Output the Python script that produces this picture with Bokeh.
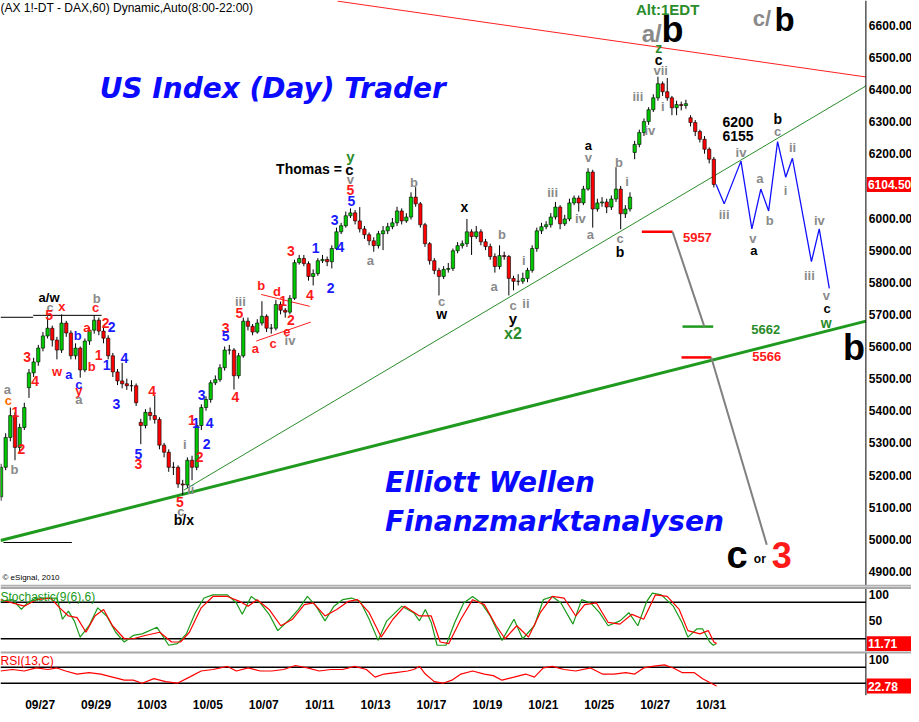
import numpy as np
from bokeh.plotting import figure
from bokeh.layouts import column
from bokeh.models import ColumnDataSource, FixedTicker, Span, Range1d
from bokeh.core.properties import value
from bokeh.embed import file_html
from bokeh.resources import INLINE

FONT = "Liberation Sans"
WIDE = "DejaVu Sans"

# ---------------- data (hourly DAX future bars) ----------------
opens = [5132, 5224, 5317, 5385, 5286, 5348, 5472, 5518, 5552, 5595,
         5633, 5657, 5620, 5589, 5673, 5642, 5571, 5595, 5527, 5617,
         5651, 5682, 5648, 5626, 5571, 5521, 5493, 5484, 5478, 5478,
         5364, 5354, 5395, 5385, 5373, 5293, 5271, 5224, 5224, 5172,
         5169, 5246, 5224, 5354, 5410, 5435, 5487, 5497, 5534, 5589,
         5589, 5509, 5571, 5679, 5663, 5645, 5673, 5694, 5657, 5657,
         5731, 5713, 5707, 5750, 5861, 5874, 5858, 5818, 5827, 5867,
         5871, 5864, 5905, 5957, 5976, 6007, 6016, 5991, 5966, 5948,
         5929, 5914, 5951, 5960, 5973, 5985, 6022, 5991, 6003, 6065,
         6044, 5979, 5920, 5867, 5837, 5818, 5840, 5843, 5898, 5914,
         5920, 5957, 5942, 5957, 5926, 5911, 5880, 5849, 5883, 5880,
         5812, 5803, 5803, 5812, 5837, 5905, 5960, 5973, 5979, 6003,
         6034, 5982, 5997, 6047, 6062, 6047, 6090, 6143, 6028, 6047,
         6050, 6034, 6059, 6090, 6013, 6028, 6204, 6229, 6266, 6300,
         6337, 6374, 6418, 6393, 6374, 6343, 6353, 6350, 6312, 6297,
         6269, 6245, 6214, 6183]
closes = [5224, 5317, 5385, 5286, 5348, 5410, 5518, 5552, 5595, 5633,
          5657, 5620, 5589, 5673, 5642, 5571, 5595, 5527, 5617, 5651,
          5682, 5648, 5626, 5571, 5521, 5493, 5484, 5478, 5478, 5425,
          5354, 5395, 5385, 5373, 5293, 5271, 5224, 5224, 5172, 5169,
          5246, 5224, 5354, 5410, 5435, 5487, 5497, 5534, 5589, 5589,
          5509, 5571, 5679, 5663, 5645, 5673, 5694, 5657, 5657, 5731,
          5713, 5707, 5750, 5861, 5874, 5858, 5818, 5827, 5867, 5871,
          5864, 5905, 5957, 5976, 6007, 6016, 5991, 5966, 5948, 5929,
          5914, 5951, 5960, 5973, 5985, 6022, 5991, 6003, 6065, 6044,
          5979, 5920, 5867, 5837, 5818, 5840, 5843, 5898, 5914, 5920,
          5957, 5942, 5957, 5926, 5911, 5880, 5849, 5883, 5880, 5812,
          5803, 5803, 5812, 5837, 5905, 5960, 5973, 5979, 6003, 6034,
          5982, 5997, 6047, 6062, 6047, 6090, 6143, 6028, 6047, 6050,
          6034, 6059, 6090, 6013, 6028, 6065, 6229, 6266, 6300, 6337,
          6374, 6418, 6393, 6374, 6343, 6353, 6350, 6356, 6297, 6269,
          6245, 6214, 6183, 6104.5]
highs = [5235, 5330, 5410, 5395, 5360, 5425, 5530, 5565, 5605, 5645,
         5694, 5665, 5630, 5700, 5680, 5650, 5610, 5600, 5625, 5660,
         5697, 5690, 5660, 5635, 5580, 5530, 5549, 5500, 5495, 5485,
         5375, 5405, 5410, 5450, 5380, 5300, 5280, 5240, 5230, 5185,
         5255, 5260, 5365, 5420, 5445, 5495, 5510, 5545, 5600, 5605,
         5595, 5580, 5690, 5690, 5670, 5685, 5741, 5700, 5670, 5745,
         5740, 5720, 5760, 5870, 5885, 5885, 5865, 5840, 5875, 5885,
         5880, 5915, 5970, 5985, 6020, 6030, 6025, 6034, 5975, 5955,
         5940, 5960, 5975, 5985, 6000, 6035, 6030, 6015, 6080, 6096,
         6050, 5985, 5925, 5875, 5845, 5850, 5860, 5905, 5925, 5930,
         5997, 5965, 5975, 5965, 5935, 5920, 5890, 5915, 5895, 5885,
         5820, 5825, 5830, 5845, 5915, 5970, 5985, 5990, 6015, 6050,
         6040, 6010, 6060, 6070, 6070, 6100, 6155, 6150, 6060, 6065,
         6060, 6070, 6158, 6100, 6040, 6080, 6240, 6275, 6310, 6345,
         6385, 6440, 6425, 6436, 6380, 6365, 6362, 6368, 6320, 6305,
         6275, 6255, 6220, 6190]
lows = [5120, 5215, 5305, 5246, 5275, 5340, 5440, 5505, 5540, 5585,
        5625, 5600, 5560, 5580, 5630, 5560, 5560, 5503, 5520, 5605,
        5640, 5635, 5610, 5560, 5505, 5480, 5470, 5465, 5460, 5415,
        5296, 5345, 5370, 5360, 5280, 5255, 5210, 5200, 5160, 5138,
        5160, 5184, 5215, 5340, 5400, 5425, 5480, 5490, 5525, 5575,
        5466, 5500, 5565, 5650, 5635, 5640, 5665, 5645, 5640, 5650,
        5700, 5690, 5700, 5745, 5855, 5850, 5805, 5790, 5820, 5860,
        5850, 5843, 5900, 5950, 5970, 6000, 5980, 5955, 5935, 5915,
        5895, 5905, 5900, 5950, 5965, 5975, 5980, 5985, 5995, 6035,
        5970, 5910, 5855, 5825, 5759, 5810, 5830, 5835, 5890, 5905,
        5910, 5885, 5935, 5915, 5900, 5870, 5830, 5840, 5870, 5759,
        5775, 5790, 5795, 5800, 5830, 5895, 5950, 5965, 5970, 5995,
        5965, 5975, 5990, 6040, 6020, 6040, 6085, 5970, 6020, 6035,
        6015, 6025, 6050, 5965, 6000, 6020, 6183, 6220, 6255, 6290,
        6330, 6365, 6380, 6365, 6320, 6320, 6335, 6340, 6285, 6255,
        6235, 6200, 6170, 6095]
last_price = 6104.5

# trading-day axis (09/27 = day 0), labels every second trading day
date_ticks = [0, 2, 4, 6, 8, 10, 12, 14, 16, 18, 20, 22, 24]
date_labels = ["09/27", "09/29", "10/03", "10/05", "10/07", "10/11", "10/13",
               "10/17", "10/19", "10/21", "10/25", "10/27", "10/31"]
price_ticks = list(range(4900, 6700, 100))
stoch_ticks = [100, 50]
rsi_ticks = [100]

# projected path (blue zig-zag)
proj_days = [24.18, 24.47, 25.07, 25.46, 25.78, 26.06, 26.38, 26.67, 26.91, 27.59, 27.87, 28.23]
proj_prices = [6104.5, 6044, 6177, 5966, 6090, 6022, 6238, 6127, 6186, 5864, 5966, 5781]

# target levels
level_top, level_mid, level_low = 5957, 5662, 5566

# stochastic %K / %D and RSI(13)
stoch_k_days = [-1.42, -0.99, -0.67, -0.46, -0.14, 0.28, 0.6, 0.8, 1.01, 1.22, 1.43, 1.75, 2.06, 2.38,
                2.7, 3.01, 3.33, 3.65, 4.18, 4.6, 4.91, 5.23, 5.55, 5.86, 6.18, 6.7, 7.02, 7.23, 7.55,
                7.87, 8.19, 8.5, 8.93, 9.24, 9.56, 9.87, 10.19, 10.51, 10.82, 11.14, 11.45, 11.77,
                12.09, 12.4, 12.94, 13.36, 13.57, 13.78, 13.99, 14.2, 14.52, 14.83, 15.15, 15.47,
                15.78, 16.1, 16.52, 16.95, 17.26, 17.68, 18.0, 18.32, 18.63, 19.06, 19.37, 19.69,
                20.01, 20.32, 20.74, 21.06, 21.38, 21.7, 21.9, 22.22, 22.65, 22.96, 23.17, 23.49,
                23.7, 23.95, 24.08, 24.18]
stoch_k = [81.6, 84.3, 68.2, 78.9, 87, 87, 87, 52.1, 65.5, 49.5, 22.7, 41.4, 70.9, 57.5, 30.7, 14.6,
           25.4, 28, 38.8, 9.3, 12, 28, 62.9, 87, 92.3, 92.3, 78.9, 60.2, 89.6, 78.9, 60.2, 33.4,
           52.1, 68.2, 89.6, 73.6, 49.5, 73.6, 84.3, 87, 81.6, 52.1, 17.3, 49.5, 73.6, 62.9, 49.5,
           68.2, 46.8, 9.3, 9.3, 46.8, 78.9, 89.6, 78.9, 57.5, 17.3, 52.1, 20, 41.4, 84.3, 89.6,
           78.9, 44.1, 84.3, 78.9, 62.9, 41.4, 49.5, 62.9, 41.4, 81.6, 95, 92.3, 73.6, 46.8, 22.7,
           36.1, 36.1, 14.6, 9.3, 11.71]
stoch_d_days = [-1.42, -0.99, -0.57, -0.14, 0.38, 0.7, 1.01, 1.32, 1.64, 1.96, 2.27, 2.59, 3.01,
                3.33, 3.75, 4.28, 4.7, 5.02, 5.34, 5.76, 6.18, 6.7, 7.13, 7.44, 7.76, 8.19, 8.61,
                9.03, 9.45, 9.77, 10.19, 10.61, 11.03, 11.35, 11.77, 12.2, 12.62, 13.04, 13.57,
                13.99, 14.31, 14.62, 15.05, 15.47, 15.89, 16.31, 16.63, 17.05, 17.47, 17.89, 18.32,
                18.74, 19.16, 19.48, 19.9, 20.32, 20.74, 21.17, 21.59, 22.01, 22.43, 22.86, 23.17,
                23.6, 23.9, 24.1, 24.2]
stoch_d = [84.3, 78.9, 73.6, 84.3, 87, 70.9, 57.5, 54.8, 30.7, 57.5, 68.2, 41.4, 20, 20, 25.4,
           30.7, 14.6, 14.6, 30.7, 70.9, 89.6, 89.6, 81.6, 73.6, 84.3, 68.2, 41.4, 52.1, 76.2,
           78.9, 57.5, 68.2, 81.6, 84.3, 62.9, 22.7, 52.1, 73.6, 57.5, 57.5, 14.6, 12, 52.1, 84.3,
           76.2, 41.4, 20, 41.4, 22.7, 62.9, 89.6, 87, 57.5, 76.2, 78.9, 46.8, 44.1, 60.2, 52.1,
           92.3, 89.6, 68.2, 33.4, 28, 33.4, 14.6, 12]
rsi_days = [-1.42, -0.99, -0.57, -0.14, 0.28, 0.6, 0.91, 1.32, 1.75, 2.17, 2.59, 3.01, 3.33, 3.65,
            4.07, 4.49, 4.91, 5.34, 5.76, 6.18, 6.7, 7.02, 7.44, 7.87, 8.29, 8.71, 9.13, 9.56,
            9.98, 10.4, 10.82, 11.25, 11.67, 11.98, 12.3, 12.72, 13.15, 13.36, 13.57, 13.78, 14.1,
            14.41, 14.73, 15.05, 15.47, 15.89, 16.21, 16.52, 16.95, 17.37, 17.68, 18.0, 18.32,
            18.74, 19.16, 19.69, 20.11, 20.53, 20.95, 21.27, 21.59, 21.9, 22.33, 22.65, 22.96,
            23.39, 23.7, 24.0, 24.2]
rsi = [60.8, 64.6, 60.8, 68.5, 64.6, 68.5, 60.8, 53.1, 56.9, 53.1, 45.4, 37.7, 37.7, 30, 41.5, 33.9,
       30, 45.4, 60.8, 64.6, 72.3, 60.8, 68.5, 60.8, 60.8, 64.6, 74.6, 68.5, 60.8, 64.6, 64.6,
       72.3, 64.6, 45.4, 53.1, 56.9, 60.8, 64.6, 72.3, 53.1, 33.9, 30, 37.7, 53.1, 60.8, 53.1,
       49.2, 37.7, 45.4, 53.1, 45.4, 68.5, 72.3, 64.6, 60.8, 68.5, 53.1, 53.1, 56.9, 53.1, 68.5,
       72.3, 76.2, 68.5, 56.9, 56.9, 41.5, 30, 22.78]
stoch_last, rsi_last = 11.71, 22.78

# ---------------- layout helpers ----------------
W = 911


def dx(px):
    return (px - 40) / 28.2


def dy(py):
    return 6600 - (py - 25) / 0.3235


X0, XR = dx(0), dx(919)          # full-width frame incl. price scale area
XA = dx(873)                      # position of the price-scale line
Y0, Y1 = 4853, 6677


def panel(height, y_range, x_range=None, x_axis=None):
    f = figure(width=W, height=height, x_range=x_range or Range1d(X0, XR), y_range=y_range,
               output_backend="svg", toolbar_location=None, x_axis_location=x_axis,
               y_axis_location=None, min_border_left=0, min_border_right=0,
               min_border_top=0, min_border_bottom=0)
    f.grid.visible = False
    f.outline_line_color = None
    f.add_layout(Span(location=XA, dimension="height", line_color="black", line_width=1))
    return f


def scale_labels(f, ticks, fmt, baselines=None):
    for i, t in enumerate(ticks):
        f.text(x=[dx(876)], y=[t], text=[fmt % t], text_color="black", text_font_size="12px",
               text_font=value(FONT), text_font_style="bold", text_align="left",
               text_baseline=(baselines[i] if baselines else "middle"))


def value_box(f, v):
    f.rect(x=[dx(897)], y=[v], width=46, height=15, width_units="screen",
           height_units="screen", fill_color="#ff0000", line_color=None)
    f.text(x=[dx(875)], y=[v], text=["%.2f" % v], text_color="white", text_font_size="12px",
           text_font=value(FONT), text_font_style="bold", text_align="left",
           text_baseline="middle")


# ---------------- main price panel ----------------
p = panel(586, Range1d(Y0, Y1))
scale_labels(p, price_ticks, "%.2f")

bar_x = np.arange(len(closes)) / 6.0 - 1.4
o = np.array(opens, float)
c = np.array(closes, float)
src = ColumnDataSource(dict(
    x=bar_x, o=o, c=c, h=np.array(highs, float), l=np.array(lows, float),
    top=np.maximum(o, c), bot=np.minimum(o, c),
    col=["#00c800" if cc >= oo else "#ff0000" for oo, cc in zip(o, c)]))

# trend lines
p.line([X0, XA], [4996, 5679], line_color="#1f9a1f", line_width=3)
p.line([dx(185), XA], [5153, 6411], line_color="#2a8c2a", line_width=1)
p.line([dx(340), XA], [6675, 6439], line_color="#ff2020", line_width=1)
p.line([X0, dx(33)], [5691, 5691], line_color="black", line_width=1)
p.line([dx(33), dx(102)], [5697, 5697], line_color="black", line_width=1)
p.line([dx(3), dx(72)], [4990, 4990], line_color="black", line_width=1)
p.line([dx(263), dx(312)], [5762, 5725], line_color="#ff2020", line_width=1)
p.line([dx(258), dx(313)], [5617, 5676], line_color="#ff2020", line_width=1)

# candles
p.segment(x0="x", y0="h", x1="x", y1="l", source=src, line_color="black", line_width=1)
p.vbar(x="x", width=0.12, top="top", bottom="bot", source=src, fill_color="col",
       line_color="black", line_width=0.6)

# projection & levels
p.line(proj_days, proj_prices, line_color="#1010ff", line_width=1.3)
p.line([dx(647), dx(678)], [level_top, level_top], line_color="#ff0000", line_width=2.5)
p.line([dx(688), dx(719)], [level_mid, level_mid], line_color="#1f9a1f", line_width=2.5)
p.line([dx(687), dx(717)], [level_low, level_low], line_color="#ff0000", line_width=2.5)
p.line([dx(678), dx(710)], [level_top, level_mid], line_color="#808080", line_width=2)
p.line([dx(717), dx(773)], [level_low, 4983], line_color="#808080", line_width=2)

G, R, B, K, GN, O = "#8a8a8a", "#ff1a1a", "#1a1aff", "#000000", "#2a8c2a", "#ff6a00"
labels = [
    (7, 392, "a", G, 13), (8, 403, "c", O, 13), (15, 414, "1", R, 14), (21, 452, "2", R, 14),
    (14, 472, "b", G, 13), (27, 359, "3", R, 14), (35, 383, "4", R, 14), (49, 299, "a/w", K, 13),
    (50, 309, "c", G, 13), (49, 317, "5", R, 14), (62, 308, "x", R, 13), (57, 374, "w", R, 13),
    (69, 377, "a", B, 13), (78, 337, "b", B, 13), (79, 387, "c", B, 13), (79, 393, "y", R, 13),
    (79, 402, "a", G, 13), (87, 329, "a", R, 13), (92, 369, "b", R, 13), (97, 300, "b", G, 13),
    (96, 309, "c", R, 13), (106, 325, "2", R, 14), (112, 329, "2", B, 14), (99, 357, "1", R, 14),
    (107, 367, "1", B, 14), (125, 360, "4", B, 14), (117, 406, "3", B, 14), (153, 393, "4", R, 14),
    (139, 457, "5", B, 14), (139, 467, "3", R, 14), (186, 447, "i", G, 13), (192, 492, "ii", G, 13),
    (181, 505, "5", R, 14), (182, 515, "c", G, 13), (185, 523, "b/x", K, 14), (193, 423, "1", R, 14),
    (197, 426, "1", B, 14), (201, 460, "2", R, 14), (208, 447, "2", B, 14), (203, 397, "3", B, 14),
    (211, 426, "4", B, 14), (227, 330, "3", R, 14), (227, 338, "5", B, 14), (237, 399, "4", R, 14),
    (242, 303, "iii", G, 13), (241, 315, "5", R, 14), (263, 287, "b", R, 13), (257, 351, "a", R, 13),
    (275, 345, "c", R, 13), (279, 293, "d", R, 13), (285, 303, "1", R, 14), (293, 322, "2", R, 14),
    (289, 333, "e", R, 13), (292, 342, "iv", G, 13), (293, 252, "3", R, 14), (312, 297, "4", R, 14),
    (318, 249, "1", B, 14), (333, 290, "2", B, 14), (337, 221, "3", B, 14), (343, 248, "4", B, 14),
    (354, 202, "5", B, 14), (353, 191, "5", R, 14), (353, 180, "v", G, 13), (352, 170, "c", K, 15),
    (353, 157, "y", GN, 15), (373, 262, "a", G, 13), (417, 183, "b", G, 13), (445, 303, "c", G, 13),
    (445, 316, "w", K, 14), (468, 208, "x", K, 14), (506, 236, "b", G, 13), (498, 288, "a", G, 13),
    (517, 307, "c", G, 13), (517, 320, "y", K, 15), (517, 335, "x2", GN, 16), (528, 262, "i", G, 13),
    (530, 305, "ii", G, 13), (557, 193, "iii", G, 13), (585, 220, "iv", G, 13), (593, 158, "v", G, 13),
    (593, 146, "a", K, 13), (595, 236, "a", G, 13), (624, 163, "b", G, 13), (632, 182, "i", G, 13),
    (625, 240, "c", G, 13), (625, 253, "b", K, 14), (664, 48, "z", GN, 14), (664, 60, "c", K, 14),
    (666, 71, "vii", G, 13), (643, 97, "iii", G, 13), (668, 107, "i", G, 13), (655, 131, "iv", G, 13),
    (747, 153, "iv", G, 13), (730, 216, "iii", G, 13), (759, 240, "v", G, 13), (760, 252, "a", K, 13),
    (766, 179, "a", G, 13), (776, 222, "b", G, 13), (784, 132, "c", G, 13), (784, 119, "b", K, 14),
    (792, 191, "i", G, 13), (799, 148, "ii", G, 13), (816, 277, "iii", G, 13), (826, 222, "iv", G, 13),
    (833, 297, "v", G, 13), (834, 310, "c", K, 13), (833, 325, "w", GN, 14),
    (744, 122, "6200", K, 14), (744, 137, "6155", K, 14), (703, 239, "5957", R, 13),
    (772, 331, "5662", GN, 13), (773, 359, "5566", R, 13),
    (861, 350, "b", K, 36), (743, 558, "c", K, 38), (766, 562, "or", K, 12), (788, 558, "3", R, 36),
    (673, 9, "Alt:1EDT", GN, 15), (657, 33, "a/", G, 24), (678, 29, "b", K, 36),
    (768, 18, "c/", G, 22), (791, 19, "b", K, 33),
]
lsrc = ColumnDataSource(dict(
    x=[dx(a[0]) for a in labels], y=[dy(a[1]) for a in labels], text=[a[2] for a in labels],
    color=[a[3] for a in labels], size=["%dpx" % a[4] for a in labels]))
p.text(x="x", y="y", text="text", source=lsrc, text_color="color", text_font_size="size",
       text_font=value(FONT), text_font_style="bold", text_align="center", text_baseline="middle")

left_texts = [
    (0, 8, "(AX 1!-DT - DAX,60) Dynamic,Auto(8:00-22:00)", K, "12px", "normal", FONT),
    (278, 170, "Thomas =", K, "14px", "bold", FONT),
    (100, 89, "US Index (Day) Trader", "#0a0aff", "28px", "bold italic", WIDE),
    (388, 485, "Elliott Wellen", "#0a0aff", "28px", "bold italic", WIDE),
    (388, 525, "Finanzmarktanalysen", "#0a0aff", "28px", "bold italic", WIDE),
    (2, 581, "\u00a9 eSignal, 2010", K, "8px", "normal", FONT),
]
for px, py, t, col, sz, st, fnt in left_texts:
    p.text(x=[dx(px)], y=[dy(py)], text=[t], text_color=col, text_font_size=sz,
           text_font_style=st, text_font=value(fnt), text_align="left", text_baseline="middle")

value_box(p, last_price)
p.add_layout(Span(location=Y0 + 2, dimension="width", line_color="#b0b0b0", line_width=2))

# ---------------- stochastic panel ----------------
s = panel(65, Range1d(-1, 106), x_range=p.x_range)
s.add_layout(Span(location=104.5, dimension="width", line_color="#a8a8a8", line_width=3))
s.line([X0, XA], [80, 80], line_color="black", line_width=1.5)
s.line([X0, XA], [20, 20], line_color="black", line_width=1.5)
s.line(stoch_k_days, stoch_k, line_color="#1a9a1a", line_width=1.2)
s.line(stoch_d_days, stoch_d, line_color="#ff0000", line_width=1.2)
s.text(x=[X0], y=[88], text=["Stochastic(9(6),6)"], text_color="#1a9a1a", text_font_size="12px",
       text_font=value(FONT), text_align="left", text_baseline="middle")
scale_labels(s, stoch_ticks, "%d", ["top", "middle"])
value_box(s, stoch_last)

# ---------------- RSI panel (with date axis) ----------------
r = panel(63, Range1d(-1, 110), x_range=p.x_range, x_axis="below")
xa = r.xaxis[0]
xa.ticker = FixedTicker(ticks=date_ticks)
xa.major_label_overrides = {t: lab for t, lab in zip(date_ticks, date_labels)}
xa.axis_line_color = None
xa.major_tick_line_color = None
xa.minor_tick_line_color = None
xa.major_tick_out = 0
xa.major_tick_in = 0
xa.minor_tick_out = 0
xa.major_label_standoff = 2
xa.major_label_text_font = FONT
xa.major_label_text_font_style = "bold"
xa.major_label_text_font_size = "12px"
xa.major_label_text_color = "black"
r.add_layout(Span(location=108.5, dimension="width", line_color="#a8a8a8", line_width=3))
r.line([X0, XA], [70, 70], line_color="black", line_width=1.5)
r.line([X0, XA], [30, 30], line_color="black", line_width=1.5)
r.line(rsi_days, rsi, line_color="#ff0000", line_width=1.2)
r.text(x=[X0], y=[86], text=["RSI(13,C)"], text_color="#ff0000", text_font_size="12px",
       text_font=value(FONT), text_align="left", text_baseline="middle")
scale_labels(r, rsi_ticks, "%d", ["top"])
value_box(r, rsi_last)

layout = column(p, s, r, spacing=0)
open("out.html", "w").write(file_html(layout, INLINE))
